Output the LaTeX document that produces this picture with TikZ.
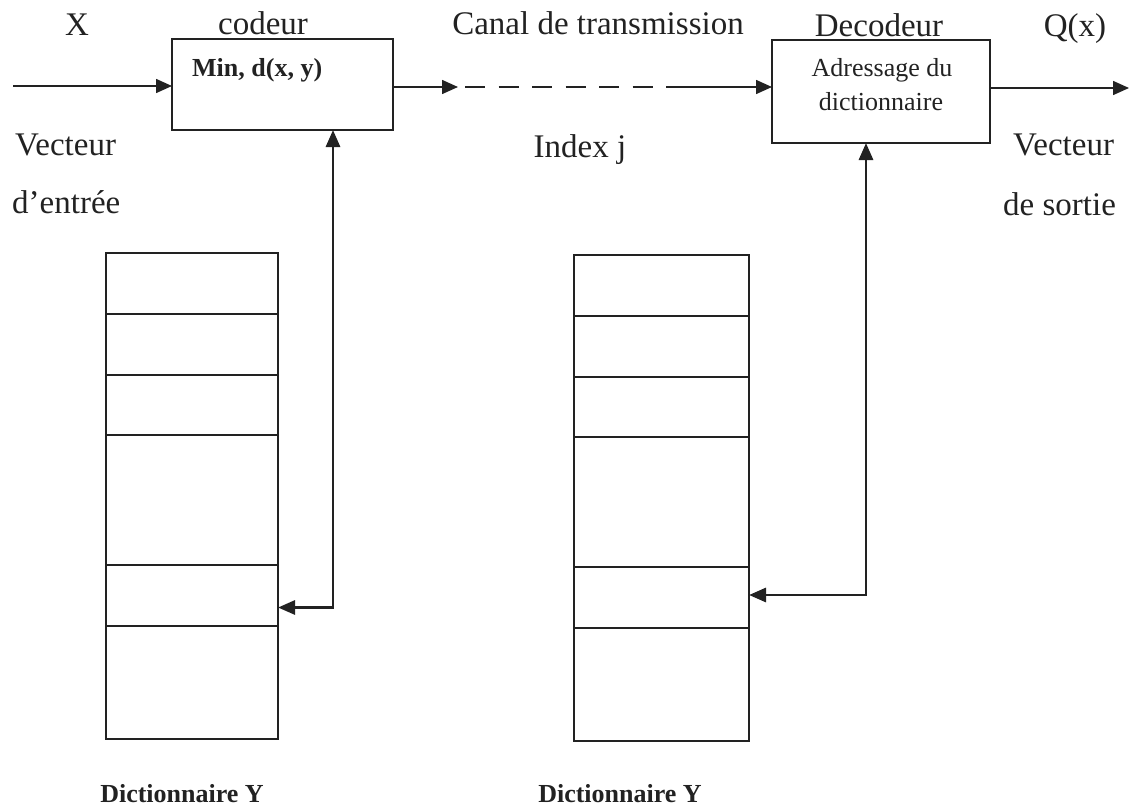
\documentclass[tikz,border=0pt]{standalone}
\usepackage{fontspec}
\setmainfont{Liberation Serif}
\usetikzlibrary{arrows.meta,calc}
\definecolor{ink}{HTML}{222222}
\tikzset{
  big/.style={font=\fontsize{33}{40}\selectfont, text=ink, inner sep=0pt, anchor=base},
  mid/.style={font=\fontsize{26}{31}\selectfont, text=ink, inner sep=0pt, anchor=base},
  midbold/.style={font=\fontsize{26}{31}\selectfont\bfseries, text=ink, inner sep=0pt, anchor=base},
  block/.style={draw=ink, line width=1.5pt, inner sep=0pt, outer sep=0pt},
  cell/.style={draw=ink, line width=1.1pt, inner sep=0pt, outer sep=0pt, anchor=north west},
  link/.style={draw=ink, line width=1.5pt, -{Triangle[length=16pt,width=14pt]}},
  dashlink/.style={draw=ink, line width=1.5pt, dash pattern=on 20pt off 13.5pt},
  feed/.style={draw=ink, line width=2.9pt,
    {Triangle[length=17pt,width=14pt]}-{Triangle[length=17pt,width=14pt]}}
}
\begin{document}
\begin{tikzpicture}[x=1pt,y=-1pt]
\useasboundingbox (0,0) rectangle (1129,808);

% coder and decoder blocks
\node[block, minimum width=221pt, minimum height=91pt] (coder) at (282.5,84.5) {};
\node[block, minimum width=218pt, minimum height=103pt] (dec) at (881,91.5) {};
\node[midbold, anchor=base west] (mind) at (192,77) {Min, d(x, y)};
\node[mid] (adr1) at (882,76) {Adressage du};
\node[mid] (adr2) at (881,110) {dictionnaire};

% titles over the chain
\node[big] (lx) at (77,36) {X};
\node[big] (lcod) at (263,35) {codeur};
\node[big] (lcanal) at (598,35) {Canal de transmission};
\node[big] (ldec) at (879,37) {Decodeur};
\node[big] (lq) at (1075,37) {Q(x)};

% labels under the chain
\node[big, anchor=base west] (lv1) at (15,155) {Vecteur};
\node[big, anchor=base west] (lv2) at (12,213) {d’entrée};
\node[big] (lidx) at (580,157) {Index j};
\node[big, anchor=base west] (lw1) at (1013,155) {Vecteur};
\node[big, anchor=base west] (lw2) at (1003,215) {de sortie};

% first dictionary
\node[cell, minimum width=172pt, minimum height=61pt]  (c1a) at (106,253) {};
\node[cell, minimum width=172pt, minimum height=61pt]  (c1b) at (106,314) {};
\node[cell, minimum width=172pt, minimum height=60pt]  (c1c) at (106,375) {};
\node[cell, minimum width=172pt, minimum height=130pt] (c1d) at (106,435) {};
\node[cell, minimum width=172pt, minimum height=61pt]  (c1e) at (106,565) {};
\node[cell, minimum width=172pt, minimum height=113pt] (c1f) at (106,626) {};
\node[midbold] (ld1) at (182,802) {Dictionnaire Y};

% second dictionary
\node[cell, minimum width=175pt, minimum height=61pt]  (c2a) at (574,255) {};
\node[cell, minimum width=175pt, minimum height=61pt]  (c2b) at (574,316) {};
\node[cell, minimum width=175pt, minimum height=60pt]  (c2c) at (574,377) {};
\node[cell, minimum width=175pt, minimum height=130pt] (c2d) at (574,437) {};
\node[cell, minimum width=175pt, minimum height=61pt]  (c2e) at (574,567) {};
\node[cell, minimum width=175pt, minimum height=113pt] (c2f) at (574,628) {};
\node[midbold] (ld2) at (620,802) {Dictionnaire Y};

% signal path
\coordinate (xin) at (13,86);
\coordinate (cout) at (458,87);
\coordinate (dstart) at (465,87);
\coordinate (dend) at (666,87);
\coordinate (qout) at (1129,88);
\draw[link] (xin) -- (xin -| coder.west);
\draw[link] (cout -| coder.east) -- (cout);
\draw[dashlink] (dstart) -- (dend);
\draw[link] (dend) -- (dend -| dec.west);
\draw[link] (qout -| dec.east) -- (qout);

% dictionary look-ups
\draw[feed] ([xshift=50.5pt]coder.south) |- ([yshift=-12pt]c1e.east);
\draw[feed] ([xshift=-15pt]dec.south) |- ([yshift=2.5pt]c2e.east);
\end{tikzpicture}
\end{document}
